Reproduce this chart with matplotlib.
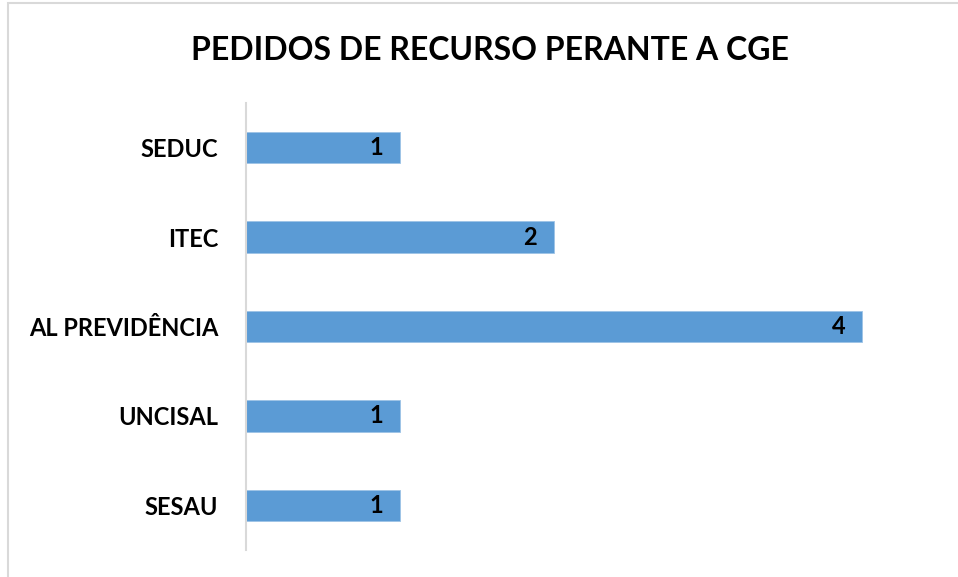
import matplotlib.pyplot as plt
from matplotlib.patches import Rectangle

categories = ["SEDUC", "ITEC", "AL PREVIDÊNCIA", "UNCISAL", "SESAU"]
values = [1, 2, 4, 1, 1]
title = "PEDIDOS DE RECURSO PERANTE A CGE"

BAR_COLOR = "#5B9BD5"
FONT = ["Lato", "DejaVu Sans"]

fig = plt.figure(figsize=(9.58, 5.77), dpi=100)
fig.patch.set_facecolor("white")

# light frame around the chart area (left/top visible in the original)
fig.add_artist(Rectangle((8 / 958, -0.05), 1.1, 0.05 + (577 - 3) / 577,
                         transform=fig.transFigure, fill=False,
                         edgecolor="#D9D9D9", linewidth=1.5))

ax = fig.add_axes([246 / 958, 27 / 577, 693 / 958, 447 / 577])
y = list(range(len(categories)))
ax.barh(y, values, height=0.35, color=BAR_COLOR, edgecolor="#9DC3E6", linewidth=0.6)
ax.set_ylim(len(categories) - 0.5, -0.5)
ax.set_xlim(0, 4.5)

for yi, v in zip(y, values):
    ax.annotate(str(v), (v, yi), xytext=(-12, 0), textcoords="offset points",
                ha="right", va="center", fontsize=17, fontweight="bold",
                family=FONT, color="black")

ax.set_yticks(y)
ax.set_yticklabels(categories, fontsize=17, fontweight="bold", family=FONT)
ax.tick_params(axis="y", length=0, pad=20)
ax.set_xticks([])
for side in ["top", "right", "bottom"]:
    ax.spines[side].set_visible(False)
ax.spines["left"].set_color("#D9D9D9")
ax.spines["left"].set_linewidth(1.5)

fig.text(490 / 958, 1 - 50 / 577, title, ha="center", va="center",
         fontsize=23, fontweight="bold", family=FONT)

fig.savefig("out.png", dpi=100)
